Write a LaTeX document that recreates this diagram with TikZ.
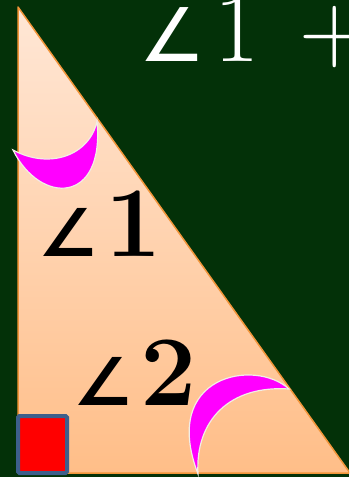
\documentclass[tikz,border=0pt]{standalone}
\usepackage{fontspec}
\newfontfamily\anglefont{DejaVu Sans}
\definecolor{board}{HTML}{033108}
\definecolor{peachtop}{HTML}{FFE7D6}
\definecolor{peachbot}{HTML}{FFBE88}
\definecolor{edge}{HTML}{F2963A}
\definecolor{moon}{HTML}{FF00FF}
\definecolor{moonrim}{HTML}{F2EEE6}
\definecolor{marker}{HTML}{3D5F8C}
\newcommand{\angsign}[1]{{\anglefont\fontsize{#1}{#1}\selectfont ∠}}
\begin{document}
\begin{tikzpicture}[x=1pt, y=-1pt,
  tri/.style={draw=edge, line width=1.5pt, line join=round},
  moonarc/.style={fill=moon, draw=moonrim, line width=1.2pt},
  sq/.style={fill=red, draw=marker, line width=4pt, rounded corners=1.5pt},
  lbl/.style={inner sep=0pt, anchor=base west, font=\fontsize{98}{100}\selectfont},
  blbl/.style={lbl, font=\fontsize{100}{100}\selectfont\bfseries}]
\fill[board] (0,0) rectangle (349,477);
\clip (0,0) rectangle (349,477);
\shade[top color=peachtop, bottom color=peachbot] (18,7) -- (18,473) -- (350,473) -- cycle;
\draw[tri] (18,7) -- (18,473) -- (350,473) -- cycle;
\node[lbl, text=white] (sum) at (139,61) {\angsign{74}\hspace{9pt}1\hspace{40pt}+};
\draw[moonarc] (13,150) .. controls (40,205) and (105,205) .. (97,121)
  .. controls (90,155) and (50,170) .. (13,150) -- cycle;
\draw[moonarc] (289,389) .. controls (255,358) and (160,375) .. (198,474)
  .. controls (195,420) and (230,385) .. (289,389) -- cycle;
\node[blbl] (ang1) at (38,256) {\angsign{66}\hspace{8pt}1};
\node[blbl] (ang2) at (73,405) {\angsign{66}\hspace{8pt}2};
\draw[sq] (18,416) rectangle (67,473);
\end{tikzpicture}
\end{document}
